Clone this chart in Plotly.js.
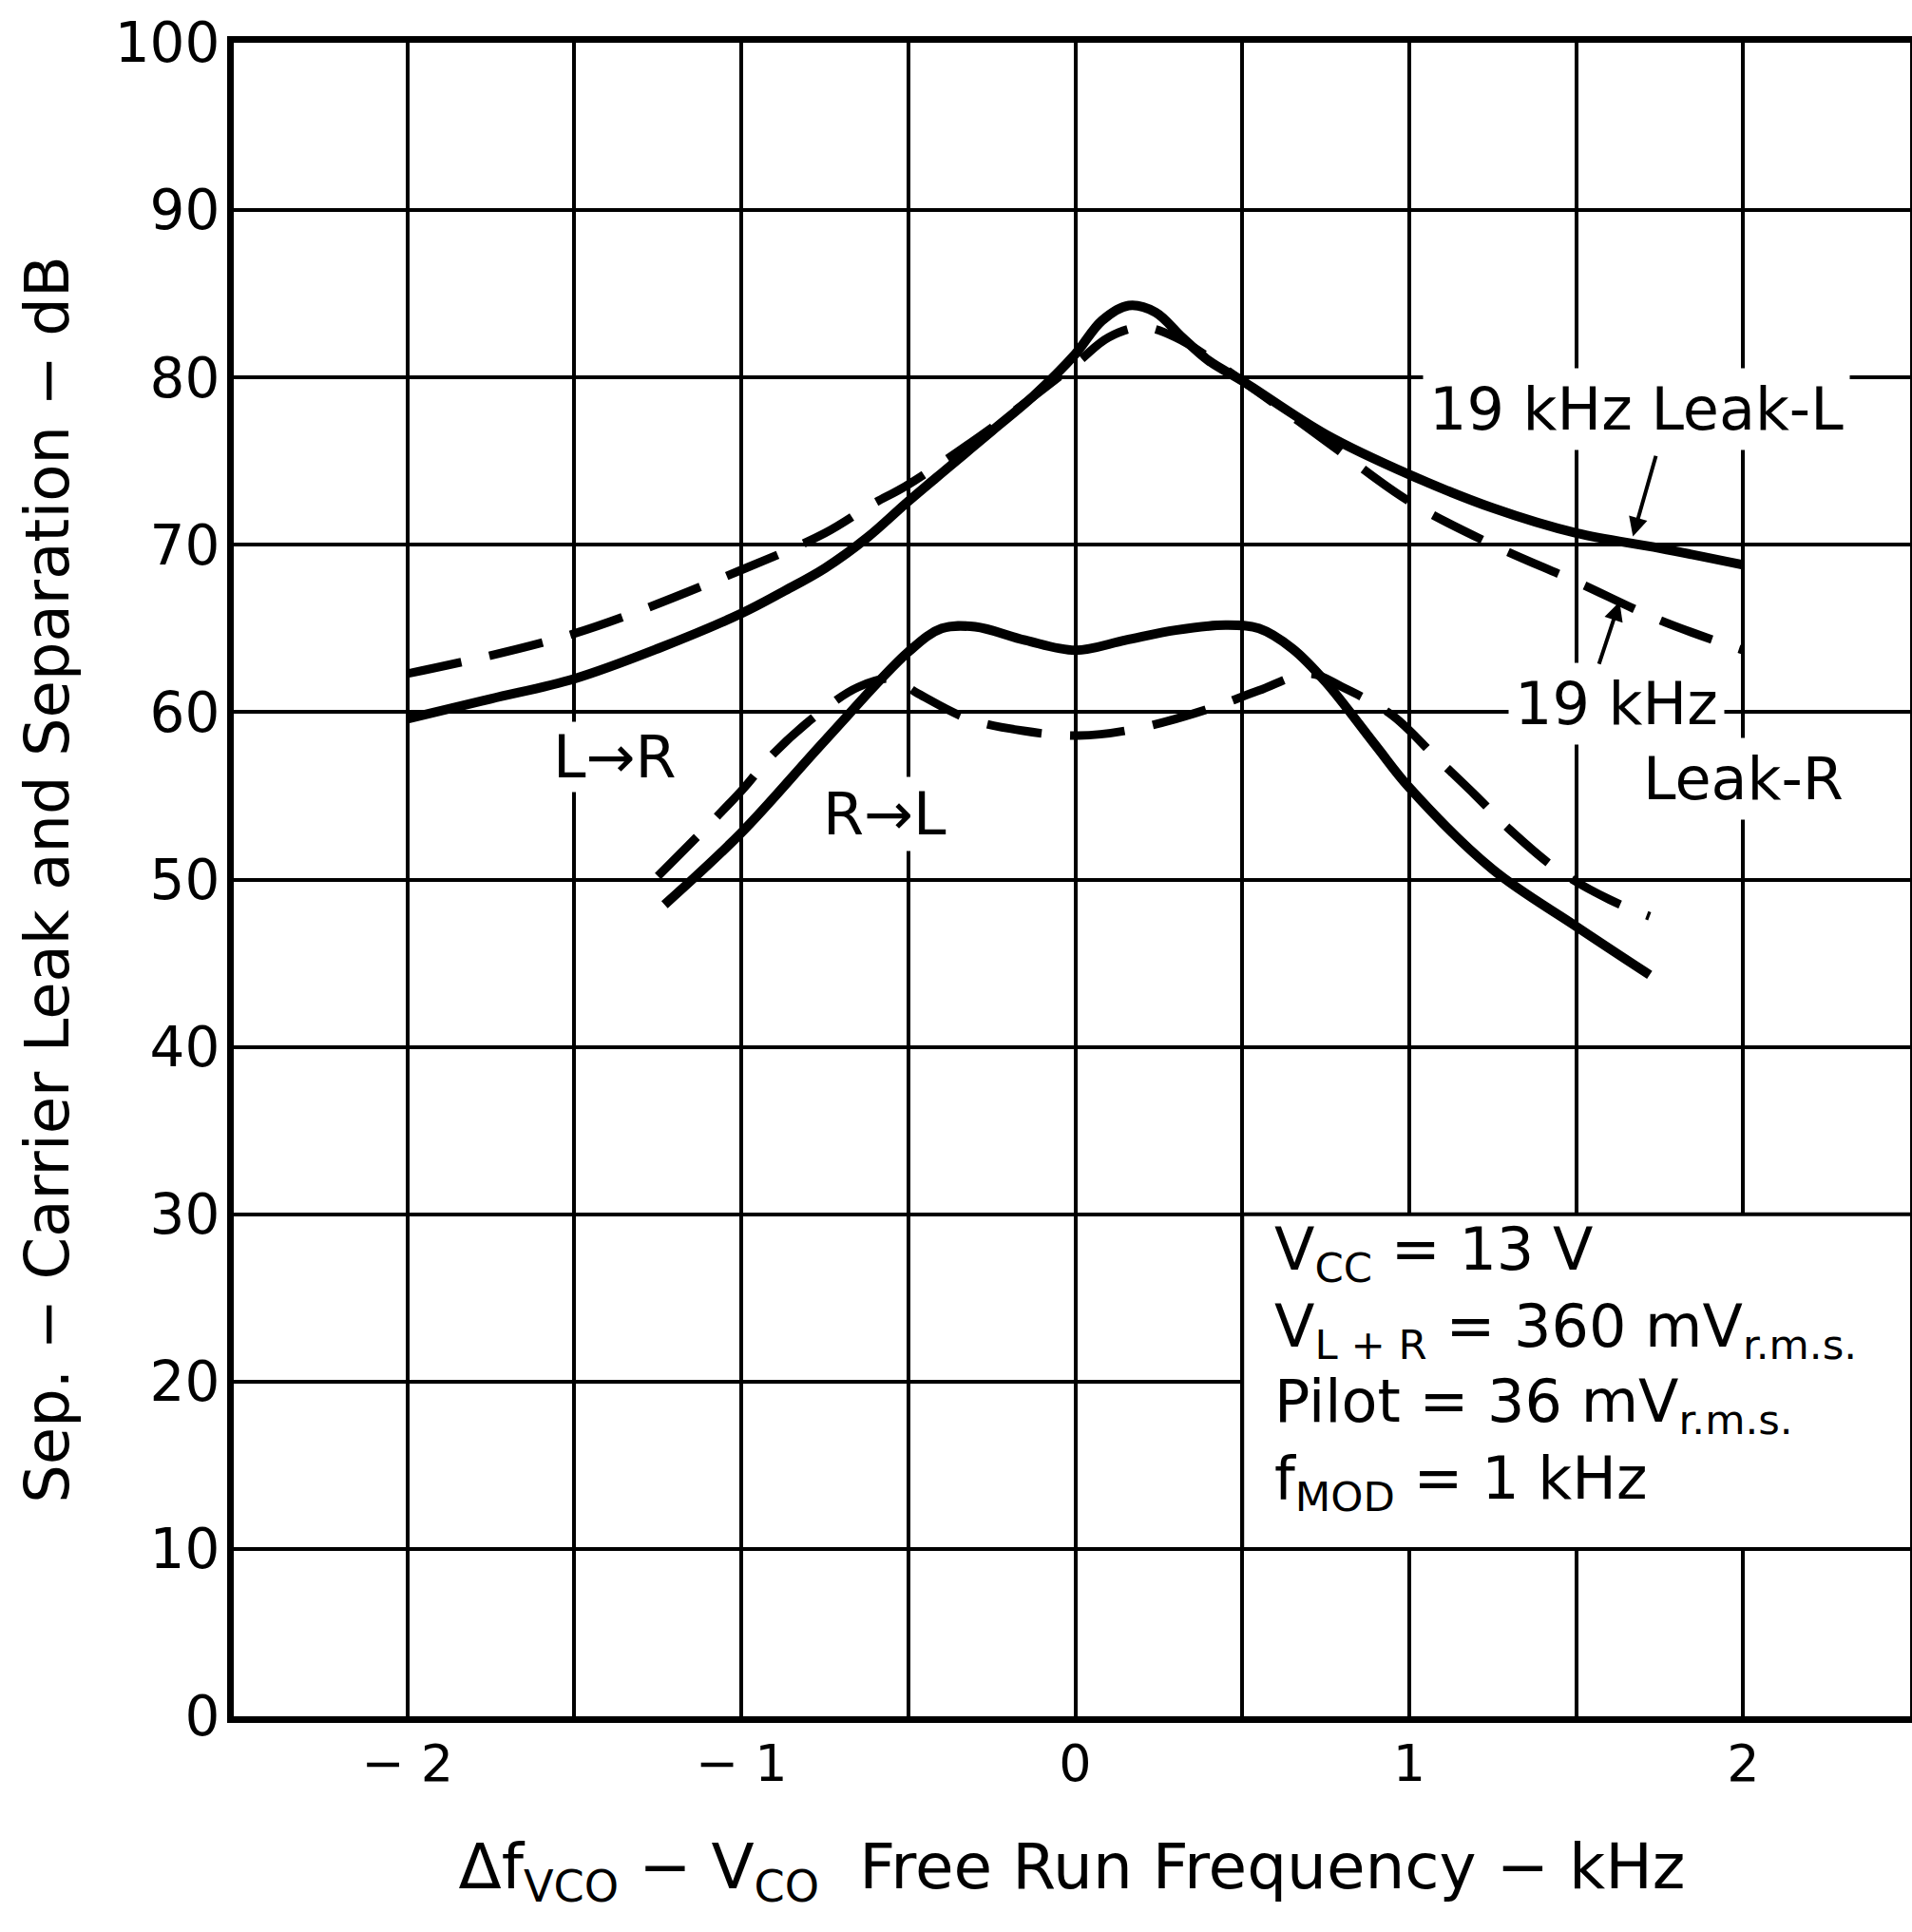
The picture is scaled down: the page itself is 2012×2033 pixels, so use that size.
<!DOCTYPE html>
<html>
<head>
<meta charset="utf-8">
<script src="https://cdn.plot.ly/plotly-3.0.1.min.js"></script>
<style>
html,body{margin:0;padding:0;background:#fff;}
#chart{width:2012px;height:2033px;}
</style>
</head>
<body>
<div id="chart"></div>
<script>
// ---- data ----
const freqLeakL = [-2, -1.75, -1.5, -1.25, -1, -0.875, -0.75, -0.625, -0.5, -0.375, -0.25, -0.125, 0, 0.08, 0.16, 0.24, 0.32, 0.4, 0.5, 0.75, 1.0, 1.25, 1.5, 1.75, 2.0];
const leakL     = [59.6, 60.8, 62.0, 63.8, 65.9, 67.2, 68.6, 70.4, 72.6, 74.7, 76.8, 78.9, 81.4, 83.4, 84.3, 83.9, 82.4, 81.0, 79.8, 76.6, 74.2, 72.2, 70.7, 69.8, 68.8];

const freqLeakR = [-2, -1.5, -1, -0.75, -0.61, -0.5, -0.25, 0, 0.1, 0.2, 0.3, 0.5, 0.75, 1.0, 1.25, 1.5, 1.75, 2.0];
const leakR     = [62.3, 64.7, 68.5, 70.7, 72.4, 73.6, 77.0, 80.8, 82.4, 83.0, 82.4, 79.8, 76.2, 72.6, 70.0, 67.8, 65.5, 63.7];

const freqSepRL = [-1.23, -1, -0.75, -0.5, -0.4, -0.3, -0.15, 0, 0.15, 0.3, 0.45, 0.55, 0.65, 0.75, 0.9, 1.0, 1.25, 1.5, 1.72];
const sepRL     = [48.5, 52.8, 58.3, 63.6, 65.0, 65.1, 64.3, 63.7, 64.3, 64.9, 65.2, 65.0, 63.8, 61.8, 58.0, 55.5, 50.6, 47.2, 44.3];

const freqSepLR = [-1.25, -1.0, -0.91, -0.77, -0.65, -0.55, -0.47, -0.32, -0.16, 0.01, 0.18, 0.4, 0.55, 0.7, 0.8, 0.95, 1.08, 1.2, 1.3, 1.45, 1.6, 1.72];
const sepLR     = [50.2, 55.3, 57.4, 59.9, 61.5, 62.0, 61.1, 59.6, 58.9, 58.6, 59.0, 60.2, 61.3, 62.3, 61.5, 59.8, 57.3, 55.0, 53.0, 50.5, 48.8, 47.8];

const xTickVals = [-2, -1, 0, 1, 2];
const xTickText = ["− 2", "− 1", "0", "1", "2"];
const yTickVals = [0, 10, 20, 30, 40, 50, 60, 70, 80, 90, 100];

const labels = {
  leakLText: "19 kHz Leak-L",
  leakRText1: "19 kHz",
  leakRText2: "Leak-R",
  lr: "L→R",
  rl: "R→L",
  cond: ["V<sub>CC</sub> = 13 V", "V<sub>L + R</sub> = 360 mV<sub>r.m.s.</sub>", "Pilot = 36 mV<sub>r.m.s.</sub>", "f<sub>MOD</sub> = 1 kHz"]
};

// ---- drawing ----
const FONT = "DejaVu Sans, Liberation Sans, Arial, sans-serif";
const solid = {color: "#000", width: 10, shape: "spline", smoothing: 1};
const dashed = {color: "#000", width: 9, shape: "spline", smoothing: 1, dash: "58px,30px"};

const traces = [
  {x: freqLeakL, y: leakL, mode: "lines", name: "19 kHz Leak-L", line: solid},
  {x: freqLeakR, y: leakR, mode: "lines", name: "19 kHz Leak-R", line: dashed},
  {x: freqSepRL, y: sepRL, mode: "lines", name: "R→L", line: solid},
  {x: freqSepLR, y: sepLR, mode: "lines", name: "L→R", line: dashed}
];

const textFont = {family: FONT, size: 62, color: "#000"};
const annotations = [
  {x: 1.68, y: 78.1, text: labels.leakLText, showarrow: false, font: textFont, bgcolor: "#fff", borderpad: 6},
  {x: 1.62, y: 60.5, text: labels.leakRText1, showarrow: false, font: textFont, bgcolor: "#fff", borderpad: 6},
  {x: 2.0, y: 56.0, text: labels.leakRText2, showarrow: false, font: textFont, bgcolor: "#fff", borderpad: 6},
  {x: -1.38, y: 57.3, text: labels.lr, showarrow: false, font: textFont, bgcolor: "#fff", borderpad: 0},
  {x: -0.57, y: 53.9, text: labels.rl, showarrow: false, font: textFont, bgcolor: "#fff", borderpad: 2},
  // leader arrows
  {x: 1.67, y: 70.5, ax: 1.74, ay: 75.4, axref: "x", ayref: "y", xref: "x", yref: "y", text: "", showarrow: true,
   arrowhead: 2, arrowsize: 1, arrowwidth: 4, arrowcolor: "#000"},
  {x: 1.63, y: 66.6, ax: 1.567, ay: 62.8, axref: "x", ayref: "y", xref: "x", yref: "y", text: "", showarrow: true,
   arrowhead: 2, arrowsize: 1, arrowwidth: 4, arrowcolor: "#000"}
];
const condY = [27.7, 23.1, 18.6, 14.0];
labels.cond.forEach((t, i) => {
  annotations.push({x: 0.59, y: condY[i], xanchor: "left", text: t, showarrow: false,
    font: {family: FONT, size: 62, color: "#000"}});
});

const layout = {
  width: 2012, height: 2033,
  margin: {l: 246, r: 2, t: 45, b: 227},
  paper_bgcolor: "#fff", plot_bgcolor: "#fff",
  showlegend: false,
  font: {family: FONT, color: "#000"},
  xaxis: {
    range: [-2.52, 2.5], tickvals: xTickVals, ticktext: xTickText,
    showgrid: true, gridcolor: "#000", gridwidth: 4,
    minor: {tickvals: [-1.5, -0.5, 0.5, 1.5, 2.5], showgrid: true, gridcolor: "#000", gridwidth: 4, ticks: ""},
    showline: true, linecolor: "#000", linewidth: 7, mirror: true,
    zeroline: false, ticks: "", ticklabelstandoff: -4,
    tickfont: {family: FONT, size: 54, color: "#000"},
    title: {text: "Δf<sub>VCO</sub> − V<sub>CO</sub>  Free Run Frequency − kHz", font: {family: FONT, size: 66, color: "#000"}, standoff: 58}
  },
  yaxis: {
    range: [0, 100], tickvals: yTickVals,
    showgrid: true, gridcolor: "#000", gridwidth: 4,
    showline: true, linecolor: "#000", linewidth: 7, mirror: true,
    zeroline: false, ticks: "", ticklabelstandoff: -4,
    tickfont: {family: FONT, size: 58, color: "#000"},
    title: {text: "Sep. − Carrier Leak and Separation − dB", font: {family: FONT, size: 64, color: "#000"}, standoff: 30}
  },
  shapes: [
    {type: "rect", xref: "x", yref: "y", x0: 0.5, x1: 2.6, y0: 10, y1: 30, fillcolor: "#fff",
     line: {color: "#000", width: 4}, layer: "above"}
  ],
  annotations: annotations
};

Plotly.newPlot("chart", traces, layout, {staticPlot: true, displayModeBar: false});
</script>
</body>
</html>
